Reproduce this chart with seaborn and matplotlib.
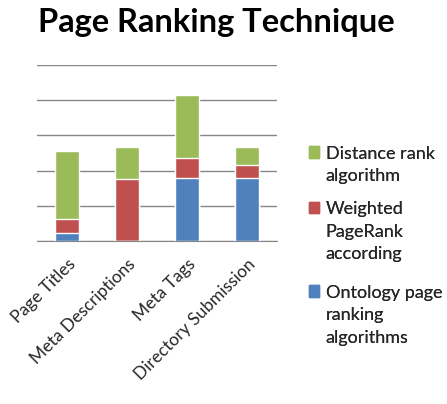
import numpy as np
import pandas as pd
import matplotlib.pyplot as plt
import seaborn as sns
from matplotlib.patches import Patch

categories = ["Page Titles", "Meta Descriptions", "Meta Tags", "Directory Submission"]
ontology = [0.23, 0.0, 1.78, 1.78]
weighted = [0.39, 1.77, 0.58, 0.39]
distance = [1.93, 0.90, 1.78, 0.51]

series_lines = [["Ontology page", "ranking", "algorithms"],
                ["Weighted", "PageRank", "according"],
                ["Distance rank", "algorithm"]]
colors = ["#4F81BD", "#C0504D", "#9BBB59"]

sns.set_style("white")
plt.rcParams["font.family"] = ["Lato", "DejaVu Sans"]

df = pd.DataFrame({"cat": categories,
                   "s0": ontology, "s1": weighted, "s2": distance})
# cumulative tops so the layered bars look stacked
df["t0"] = df["s0"]
df["t1"] = df["t0"] + df["s1"]
df["t2"] = df["t1"] + df["s2"]

fig = plt.figure(figsize=(4.47, 4.04), dpi=100)
ax = fig.add_axes([0.083, 0.4035, 0.537, 0.4356])

for col, c in zip(["t2", "t1", "t0"], [colors[2], colors[1], colors[0]]):
    sns.barplot(data=df, x="cat", y=col, color=c, width=0.4,
                saturation=1, ax=ax, zorder=3)

ax.set_ylim(0, 5)
ax.set_xlim(-0.5, 3.5)
ax.set_yticks(np.arange(0, 6, 1))
ax.yaxis.grid(True, color="#868686", linewidth=1)
ax.set_axisbelow(True)
ax.set_yticklabels([])
ax.tick_params(axis="both", length=0)
for s in ["top", "right", "left"]:
    ax.spines[s].set_visible(False)
ax.spines["bottom"].set_color("#868686")
ax.set_xlabel("")
ax.set_ylabel("")
ax.set_xticks(range(len(categories)))
ax.set_xticklabels(categories, rotation=45, ha="right",
                   rotation_mode="anchor", fontsize=12.5)
ax.tick_params(axis="x", pad=11)

fig.text(0.485, 0.945, "Page Ranking Technique", ha="center", va="center",
         fontsize=23.5, fontweight="bold", color="black")

# legend: one block per series, square next to the first line (Excel style)
tops = [0.318, 0.525, 0.662]
for i in [2, 1, 0]:
    lines = series_lines[i]
    hs = [Patch(color=colors[i])] + [Patch(alpha=0) for _ in lines[1:]]
    leg = fig.legend(hs, lines, loc="upper left",
                     bbox_to_anchor=(0.67, tops[i]), frameon=False,
                     fontsize=13, handlelength=0.6, handleheight=0.6,
                     handletextpad=0.35, labelspacing=0.37, borderpad=0)
    fig.add_artist(leg)

fig.savefig("out.png", dpi=100)
